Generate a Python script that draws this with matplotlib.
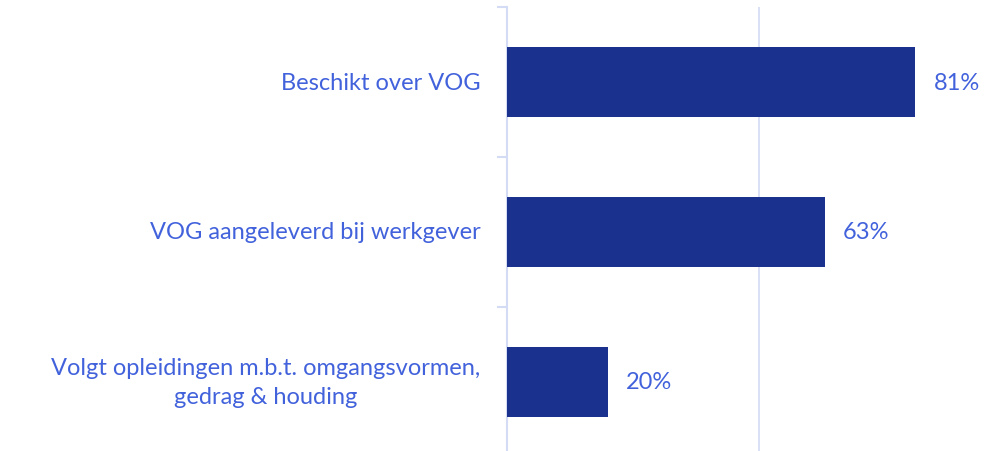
import matplotlib
matplotlib.use("Agg")
import matplotlib.pyplot as plt
from matplotlib.ticker import FixedLocator

categories = ["Beschikt over VOG", "VOG aangeleverd bij werkgever",
              "Volgt opleidingen m.b.t. omgangsvormen,\ngedrag & houding"]
values = [81, 63, 20]
value_labels = ["81%", "63%", "20%"]

bar_color = "#1a318e"
text_color = "#4262dc"
line_color = "#d3dbf5"

plt.rcParams['font.family'] = ['Lato', 'DejaVu Sans']

W, H = 1003, 452
fig = plt.figure(figsize=(W / 100, H / 100), dpi=100)
ax = fig.add_axes([507 / W, (452 - 458) / H, 504 / W, 450 / H])

ypos = list(range(len(categories)))
ax.barh(ypos, values, height=0.467, color=bar_color, zorder=3)
ax.set_xlim(0, 100)
ax.set_ylim(len(categories) - 0.5, -0.5)

for y, v, lab in zip(ypos, values, value_labels):
    ax.text(v + 3.6, y, lab, va="center", ha="left", color=text_color, fontsize=17)

for y, c in zip(ypos, categories):
    ax.text(-5.3, y, c, va="center", ha="right", color=text_color, fontsize=17,
            multialignment="center", linespacing=1.5)

ax.set_yticks([])
ax.yaxis.set_minor_locator(FixedLocator([-0.5 + i for i in range(len(categories) + 1)]))
ax.tick_params(axis="y", which="minor", length=7, color=line_color, width=1.5)
ax.set_xticks([0, 50, 100])
ax.tick_params(axis="x", length=0, labelbottom=False)
ax.grid(axis="x", color=line_color, linewidth=1.2, zorder=0)

for s in ["top", "right", "bottom"]:
    ax.spines[s].set_visible(False)
ax.spines["left"].set_color(line_color)
ax.spines["left"].set_linewidth(1.5)

fig.savefig("out.png", dpi=100)
